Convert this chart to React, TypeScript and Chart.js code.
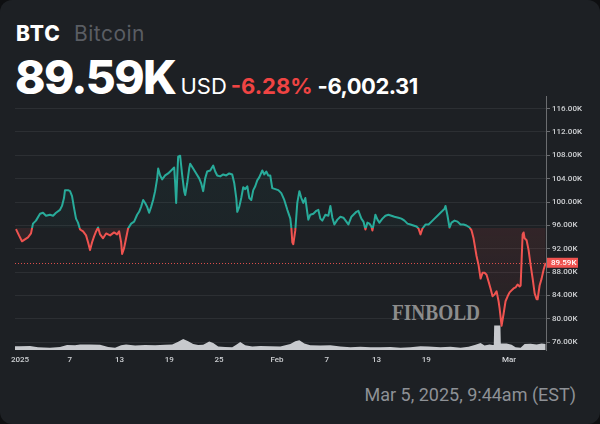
import React, { useEffect, useRef } from 'react';
import { Chart, registerables } from 'chart.js';

Chart.register(...registerables);

// ---- data (days since Jan 1, 2025; price in thousands USD) ----
const PRICE_DAYS = [
  -0.48, -0.12, 0.24, 0.6, 0.97, 1.33, 1.57, 1.93, 2.42, 2.78, 3.14, 3.62, 3.99, 4.35, 4.83, 5.07, 5.31, 5.43, 5.8, 6.04,
  6.28, 6.52, 6.76, 7.0, 7.25, 7.61, 7.97, 8.21, 8.45, 8.7, 8.94, 9.18, 9.42, 9.66, 10.02, 10.39, 10.87, 11.35, 11.71, 11.96,
  12.2, 12.32, 12.56, 12.8, 13.04, 13.41, 13.77, 14.13, 14.37, 14.61, 14.86, 15.1, 15.34, 15.58, 15.82, 16.06, 16.3, 16.55, 16.67, 16.91,
  17.15, 17.51, 17.87, 18.24, 18.6, 18.72, 18.84, 18.96, 19.08, 19.32, 19.57, 19.81, 19.93, 20.17, 20.41, 20.53, 20.89, 21.26, 21.62, 21.86,
  22.1, 22.34, 22.58, 22.95, 23.31, 23.55, 23.79, 24.15, 24.52, 24.88, 25.24, 25.6, 25.85, 26.09, 26.21, 26.45, 26.69, 26.93, 27.17, 27.42,
  27.66, 27.9, 28.14, 28.38, 28.62, 28.86, 29.23, 29.47, 29.71, 29.95, 30.19, 30.43, 30.8, 31.16, 31.52, 31.88, 32.25, 32.61, 32.73, 32.85,
  32.97, 33.21, 33.45, 33.7, 33.94, 34.18, 34.42, 34.66, 34.78, 35.02, 35.39, 35.75, 35.99, 36.23, 36.47, 36.84, 37.2, 37.44, 37.68, 37.92,
  38.29, 38.65, 39.01, 39.37, 39.61, 39.98, 40.22, 40.58, 40.82, 41.18, 41.43, 41.67, 41.91, 42.15, 42.39, 42.51, 42.75, 42.87, 43.12, 43.36,
  43.72, 44.08, 44.44, 44.81, 45.17, 45.65, 46.01, 46.38, 46.74, 47.1, 47.46, 47.83, 48.07, 48.31, 48.55, 48.91, 49.28, 49.64, 50.0, 50.36,
  50.72, 50.97, 51.21, 51.33, 51.57, 51.81, 52.05, 52.42, 52.78, 53.14, 53.5, 53.86, 54.23, 54.47, 54.71, 54.95, 55.07, 55.31, 55.56, 55.8,
  56.04, 56.28, 56.52, 56.76, 57.0, 57.25, 57.49, 57.73, 57.85, 58.09, 58.33, 58.57, 58.82, 59.06, 59.3, 59.54, 59.78, 60.02, 60.27, 60.39,
  60.51, 60.63, 60.75, 60.87, 61.11, 61.35, 61.59, 61.84, 62.08, 62.32, 62.44, 62.68, 62.92, 63.16, 63.41,
];
const PRICE_VALUES = [
  95.35, 94.28, 93.27, 93.61, 93.95, 94.62, 96.3, 96.81, 97.99, 98.16, 97.65, 97.82, 97.65, 98.16, 98.66, 99.33, 100.68, 102.03, 102.03, 101.86,
  101.02, 99.0, 97.15, 96.47, 95.29, 94.96, 94.28, 93.11, 91.76, 93.11, 94.12, 94.96, 95.63, 94.45, 93.78, 94.62, 94.28, 94.79, 94.45, 94.96,
  93.11, 91.09, 92.1, 93.78, 95.46, 96.3, 96.64, 97.82, 98.32, 99.17, 100.35, 99.84, 99.17, 98.16, 99.17, 100.35, 101.86, 104.05, 105.73, 104.55,
  103.88, 104.55, 104.89, 105.4, 105.9, 103.21, 99.84, 104.05, 107.75, 107.92, 104.55, 101.86, 101.19, 103.21, 105.73, 106.57, 105.73, 104.89, 104.05, 103.21,
  101.86, 104.05, 105.23, 105.4, 106.24, 105.23, 104.55, 104.39, 104.72, 104.55, 104.89, 104.72, 103.21, 100.68, 98.32, 99.17, 100.68, 102.53, 102.2, 102.7,
  100.68, 100.35, 102.03, 102.7, 103.71, 104.22, 105.4, 104.72, 105.23, 104.55, 104.55, 102.37, 102.2, 102.03, 101.52, 100.35, 98.66, 97.15, 95.63, 93.11,
  92.77, 95.13, 99.84, 101.86, 100.68, 99.84, 100.68, 98.16, 96.98, 97.82, 97.99, 98.49, 98.66, 97.15, 96.81, 97.82, 97.65, 99.33, 97.31, 96.14,
  96.98, 97.48, 97.31, 96.64, 96.14, 97.48, 97.82, 98.32, 98.49, 97.15, 96.64, 95.29, 96.47, 96.3, 95.8, 95.13, 96.81, 97.82, 96.98, 96.47,
  97.15, 97.65, 97.82, 97.65, 97.48, 97.31, 97.15, 96.81, 96.3, 96.14, 95.97, 95.8, 95.46, 94.45, 95.46, 96.14, 96.14, 96.64, 97.15, 97.65,
  98.16, 98.49, 98.83, 99.33, 97.65, 95.63, 96.47, 96.81, 96.64, 96.14, 96.14, 95.97, 95.63, 95.13, 93.78, 91.76, 90.75, 89.23, 86.88, 87.89,
  87.89, 87.55, 86.37, 85.19, 83.85, 84.18, 84.69, 83.0, 81.83, 78.8, 80.82, 83.0, 83.85, 84.52, 84.86, 85.19, 85.36, 85.87, 85.53, 85.7,
  90.08, 94.45, 94.79, 93.78, 93.44, 91.76, 89.23, 86.88, 84.35, 83.34, 83.34, 85.7, 86.88, 88.39, 89.59,
];
const VOLUME_DAYS = [
  -0.6, 0, 1.21, 2.17, 3.62, 4.83, 5.68, 6.64, 7.25, 8.45, 9.66, 10.63, 11.47, 12.2, 12.8, 13.89, 15.1, 16.3, 17.51, 18.36,
  19.08, 19.69, 20.29, 20.89, 21.5, 22.1, 22.83, 23.31, 23.91, 24.76, 25.6, 26.09, 26.57, 27.17, 28.02, 28.99, 30.19, 31.4, 32.61, 33.21,
  33.7, 34.3, 35.02, 36.23, 37.44, 38.65, 39.86, 41.06, 42.27, 43.48, 44.69, 45.89, 47.1, 48.31, 49.28, 50.72, 51.93, 53.14, 54.11, 54.95,
  55.56, 56.04, 56.64, 57.0, 57.15, 57.2, 57.95, 58.0, 58.7, 59.3, 59.78, 60.39, 60.87, 61.59, 62.32, 62.92, 63.41,
];
const VOLUME_VALUES = [
  1.3, 1.3, 1.4, 0.9, 0.8, 1.0, 1.7, 1.6, 1.9, 1.9, 1.8, 1.0, 0.8, 1.6, 1.9, 1.5, 1.7, 1.6, 1.8, 1.9,
  2.8, 3.7, 3.0, 2.0, 1.7, 1.8, 2.9, 2.4, 1.2, 1.0, 0.9, 1.8, 2.7, 1.6, 1.2, 1.4, 1.3, 1.2, 2.0, 3.0,
  3.3, 2.2, 1.6, 1.5, 1.6, 1.2, 0.9, 1.1, 0.9, 0.9, 1.0, 0.8, 0.9, 1.3, 1.2, 0.9, 1.1, 0.8, 1.1, 1.8,
  2.4, 1.5, 1.9, 1.7, 1.7, 8.3, 8.3, 2.2, 2.2, 1.8, 0.9, 0.8, 2.0, 2.1, 1.9, 2.2, 2.0,
];
const X_TICK_DAYS = [0, 6, 12, 18, 24, 31, 37, 43, 49, 59];
const X_TICK_LABELS = ['2025', '7', '13', '19', '25', 'Feb', '7', '13', '19', 'Mar'];
const Y_TICKS = [76, 80, 84, 88, 92, 96, 100, 104, 108, 112, 116];
const OPEN_PRICE = 95.59;
const LAST_PRICE = 89.59;
const LAST_LABEL = '89.59K';

const GREEN = '#28ab9a';
const RED = '#ef5350';
const BG = '#1d2024';

export default function App() {
  const ref = useRef<HTMLCanvasElement>(null);

  useEffect(() => {
    document.body.style.margin = '0';
    document.body.style.background = '#0e0f11';
    const canvas = ref.current!;

    const splitGradient = (chart: any, topCol: string, midTop: string, midBot: string, botCol: string) => {
      const area = chart.chartArea;
      if (!area) return midTop;
      const b = chart.scales.y.getPixelForValue(OPEN_PRICE);
      const f = Math.min(1, Math.max(0, (b - area.top) / (area.bottom - area.top)));
      const g = chart.ctx.createLinearGradient(0, area.top, 0, area.bottom);
      g.addColorStop(0, topCol);
      g.addColorStop(f, midTop);
      g.addColorStop(f, midBot);
      g.addColorStop(1, botCol);
      return g;
    };

    const priceLinePlugin = {
      id: 'priceLine',
      afterDatasetsDraw(chart: any) {
        const { ctx, chartArea } = chart;
        const y = Math.round(chart.scales.y.getPixelForValue(LAST_PRICE)) + 0.5;
        ctx.save();
        ctx.strokeStyle = 'rgba(239,83,80,0.9)';
        ctx.lineWidth = 1;
        ctx.setLineDash([1, 2]);
        ctx.beginPath();
        ctx.moveTo(chartArea.left, y);
        ctx.lineTo(chartArea.right, y);
        ctx.stroke();
        ctx.restore();
      },
      afterDraw(chart: any) {
        const { ctx, chartArea } = chart;
        const y = chart.scales.y.getPixelForValue(LAST_PRICE);
        ctx.save();
        ctx.fillStyle = RED;
        ctx.fillRect(chartArea.right + 1, y - 5, 31, 10);
        ctx.fillStyle = '#ffffff';
        ctx.font = '500 8px Roboto';
        ctx.textBaseline = 'middle';
        ctx.textAlign = 'left';
        ctx.fillText(LAST_LABEL, chartArea.right + 5, y + 0.5);
        ctx.restore();
      },
    };

    const chart = new Chart(canvas, {
      type: 'line',
      data: {
        datasets: [
          {
            label: 'BTC',
            data: PRICE_DAYS.map((d, i) => ({ x: d, y: PRICE_VALUES[i] })),
            yAxisID: 'y',
            borderWidth: 2,
            pointRadius: 0,
            tension: 0,
            borderJoinStyle: 'round',
            borderColor: (c: any) => splitGradient(c.chart, GREEN, GREEN, RED, RED),
            backgroundColor: (c: any) =>
              splitGradient(c.chart, 'rgba(38,166,154,0.06)', 'rgba(38,166,154,0.04)', 'rgba(239,83,80,0.10)', 'rgba(239,83,80,0.02)'),
            fill: { value: OPEN_PRICE },
          } as any,
          {
            label: 'Volume',
            data: VOLUME_DAYS.map((d, i) => ({ x: d, y: VOLUME_VALUES[i] })),
            yAxisID: 'yVol',
            borderWidth: 0,
            pointRadius: 0,
            tension: 0,
            borderColor: 'rgba(214,216,220,0.95)',
            backgroundColor: 'rgba(214,216,220,0.92)',
            fill: 'origin',
          } as any,
        ],
      },
      options: {
        responsive: false,
        animation: false,
        layout: { padding: { left: 15, right: 0, top: 2, bottom: 0 } },
        plugins: { legend: { display: false }, tooltip: { enabled: false } },
        scales: {
          x: {
            type: 'linear',
            min: -0.6,
            max: 63.45,
            grid: { display: false, drawTicks: false },
            border: { display: false },
            afterBuildTicks: (s: any) => {
              s.ticks = X_TICK_DAYS.map((v) => ({ value: v }));
            },
            afterFit: (s: any) => {
              s.height = 25;
            },
            ticks: {
              autoSkip: false,
              maxRotation: 0,
              padding: 5,
              color: '#cfd1d4',
              font: { family: 'Roboto', size: 8, weight: '500' },
              callback: (v: any) => {
                const i = X_TICK_DAYS.indexOf(Number(v));
                return i >= 0 ? X_TICK_LABELS[i] : '';
              },
            },
          },
          y: {
            type: 'linear',
            position: 'right',
            min: 74.65,
            max: 118.02,
            grid: {
              color: 'rgba(255,255,255,0.07)',
              tickColor: 'rgba(255,255,255,0.35)',
              tickLength: 4,
            },
            border: { display: true, color: 'rgba(255,255,255,0.35)' },
            afterBuildTicks: (s: any) => {
              s.ticks = Y_TICKS.map((v) => ({ value: v }));
            },
            afterFit: (s: any) => {
              s.width = 54;
            },
            ticks: {
              padding: 2,
              color: '#cfd1d4',
              font: { family: 'Roboto', size: 8, weight: '500' },
              callback: (v: any) => Number(v).toFixed(2) + 'K',
            },
          },
          yVol: {
            type: 'linear',
            display: false,
            min: 0,
            max: 86,
          },
        },
      } as any,
      plugins: [priceLinePlugin],
    });
    return () => chart.destroy();
  }, []);

  const font = 'Inter, "Noto Sans", sans-serif';

  return (
    <div
      style={{
        position: 'fixed',
        left: 0,
        top: 0,
        width: 600,
        height: 424,
        background: BG,
        borderRadius: 12,
        overflow: 'hidden',
        fontFamily: font,
      }}
    >
      <div style={{ position: 'absolute', left: 16, top: 23, lineHeight: 1, whiteSpace: 'nowrap' }}>
        <span style={{ color: '#ffffff', fontWeight: 800, fontSize: 21, letterSpacing: 1 }}>BTC</span>
        <span style={{ color: '#5a5d63', fontWeight: 400, marginLeft: 13, fontSize: 21, letterSpacing: 0.5 }}>Bitcoin</span>
      </div>
      <div
        style={{
          position: 'absolute',
          left: 15,
          top: 54,
          display: 'flex',
          alignItems: 'baseline',
          lineHeight: 1,
          whiteSpace: 'nowrap',
        }}
      >
        <span style={{ color: '#ffffff', fontWeight: 800, fontSize: 46, letterSpacing: -1.6 }}>89.59K</span>
        <span style={{ color: '#ffffff', fontWeight: 400, fontSize: 22, marginLeft: 5 }}>USD</span>
        <span style={{ color: '#ef4443', fontWeight: 700, fontSize: 22, marginLeft: 4 }}>-6.28%</span>
        <span style={{ color: '#ffffff', fontWeight: 700, fontSize: 22, marginLeft: 5, letterSpacing: -0.5 }}>-6,002.31</span>
      </div>
      <div
        style={{
          position: 'absolute',
          left: 392,
          top: 301,
          fontFamily: '"Liberation Serif", serif',
          fontWeight: 700,
          fontSize: 23,
          color: '#8c8c8c',
          transform: 'scaleX(0.84)',
          transformOrigin: 'left top',
          lineHeight: 1,
        }}
      >
        FINBOLD
      </div>
      <canvas
        ref={ref}
        width={600}
        height={285}
        style={{ position: 'absolute', left: 0, top: 90, width: 600, height: 285 }}
      />
      <div
        style={{
          position: 'absolute',
          right: 24,
          top: 386,
          fontFamily: 'Roboto, sans-serif',
          fontSize: 18,
          lineHeight: 1,
          color: '#8e9196',
          fontWeight: 400,
          whiteSpace: 'nowrap',
        }}
      >
        Mar 5, 2025, 9:44am (EST)
      </div>
    </div>
  );
}
